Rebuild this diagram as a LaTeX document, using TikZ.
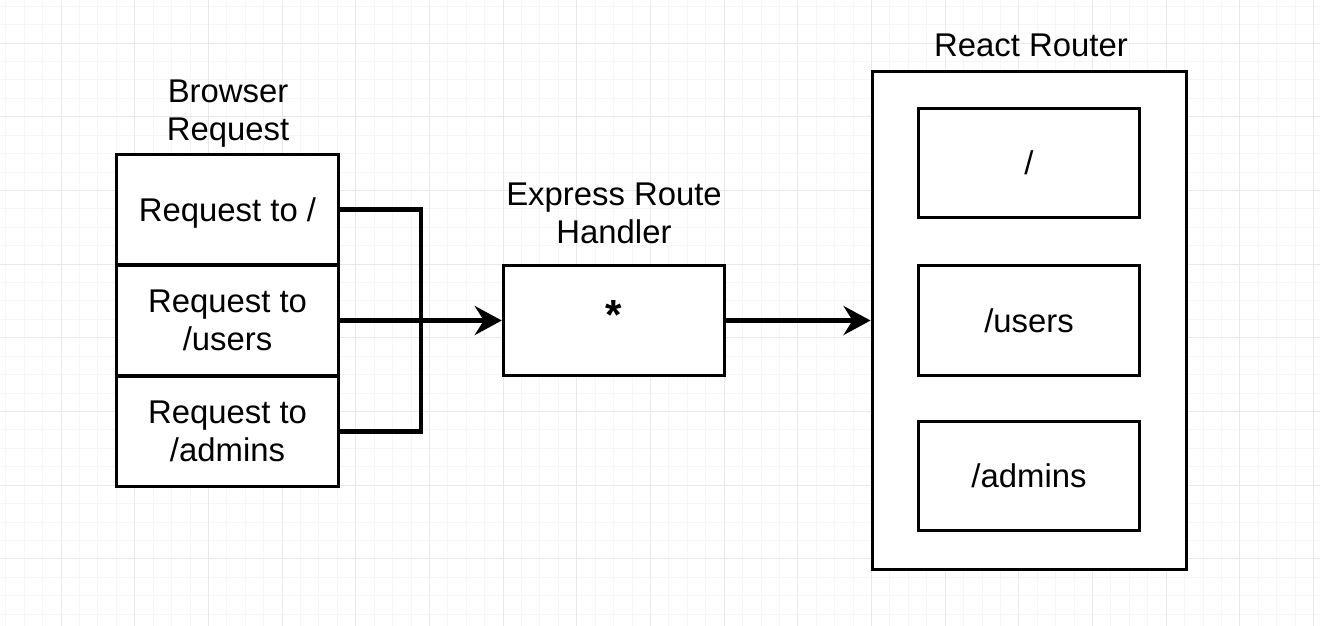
\documentclass[tikz,border=0pt]{standalone}
\usepackage{fontspec}
\setmainfont{Liberation Sans}
\usepackage{tikz}
\usetikzlibrary{arrows.meta}
\definecolor{gridMinor}{RGB}{246, 246, 246}
\definecolor{gridMajor}{RGB}{232, 232, 232}

\begin{document}
\begin{tikzpicture}[x=0.02cm, y=-0.02cm,
    every node/.style={font=\fontsize{18.7pt}{21.6pt}\selectfont},
    routebox/.style={draw, fill=white, line width=0.06cm, minimum width=4.43cm, minimum height=2.21cm, align=center, text depth=0pt},
    conn/.style={line width=0.085cm},
    tip/.style={-{Stealth[length=0.54cm, width=0.58cm, inset=0.18cm]}}]
                \useasboundingbox[fill=white] (0,0) rectangle (1320,626);
                \foreach \k in {0,...,71} {
                    \pgfmathsetmacro{\gx}{5.75+18.417*\k}
                    \draw[gridMinor, line width=0.4pt] (\gx,0) -- (\gx,626);
                }
                \foreach \k in {0,...,33} {
                    \pgfmathsetmacro{\gy}{6.17+18.417*\k}
                    \draw[gridMinor, line width=0.4pt] (0,\gy) -- (1320,\gy);
                }
                \foreach \k in {0,...,17} {
                    \pgfmathsetmacro{\gx}{61+73.67*\k}
                    \draw[gridMajor, line width=0.5pt] (\gx,0) -- (\gx,626);
                }
                \foreach \k in {0,...,7} {
                    \pgfmathsetmacro{\gy}{43+73.67*\k}
                    \draw[gridMajor, line width=0.5pt] (0,\gy) -- (1320,\gy);
                }
                \node[align=center, inner sep=0pt] (browserLabel) at (228,113.5) {Browser\\Request};
                \node[routebox] (reqRoot) at (227.5,209.5) {Request to /};
                \node[routebox] (reqUsers) at (227.5,320.5) {Request to\\/users};
                \node[routebox] (reqAdmins) at (227.5,431.5) {Request to\\/admins};
                \coordinate (join) at (421,320.5);
                \draw[conn] (reqRoot.east) -| (join) |- (reqAdmins.east);
                \node[align=center, inner sep=0pt] (expressLabel) at (614,213) {Express Route\\Handler};
                \node[routebox, text depth=0.24cm] (express) at (614,320.5) {\fontsize{24pt}{24pt}\selectfont\bfseries *};
                \draw[conn, tip] (reqUsers.east) -- (express.west);
                \node[inner sep=0pt] (routerLabel) at (1031,45.5) {React Router};
                \node[routebox, minimum width=6.3cm, minimum height=9.96cm] (router) at (1029.5,320.5) {};
                \node[routebox, minimum height=2.2cm] (pathRoot) at (1029,163) {/};
                \node[routebox] (pathUsers) at (1029,320.5) {/users};
                \node[routebox, minimum height=2.2cm] (pathAdmins) at (1029,476) {/admins};
                \draw[conn, tip] (express.east) -- (router.west);
            \end{tikzpicture}
\end{document}
